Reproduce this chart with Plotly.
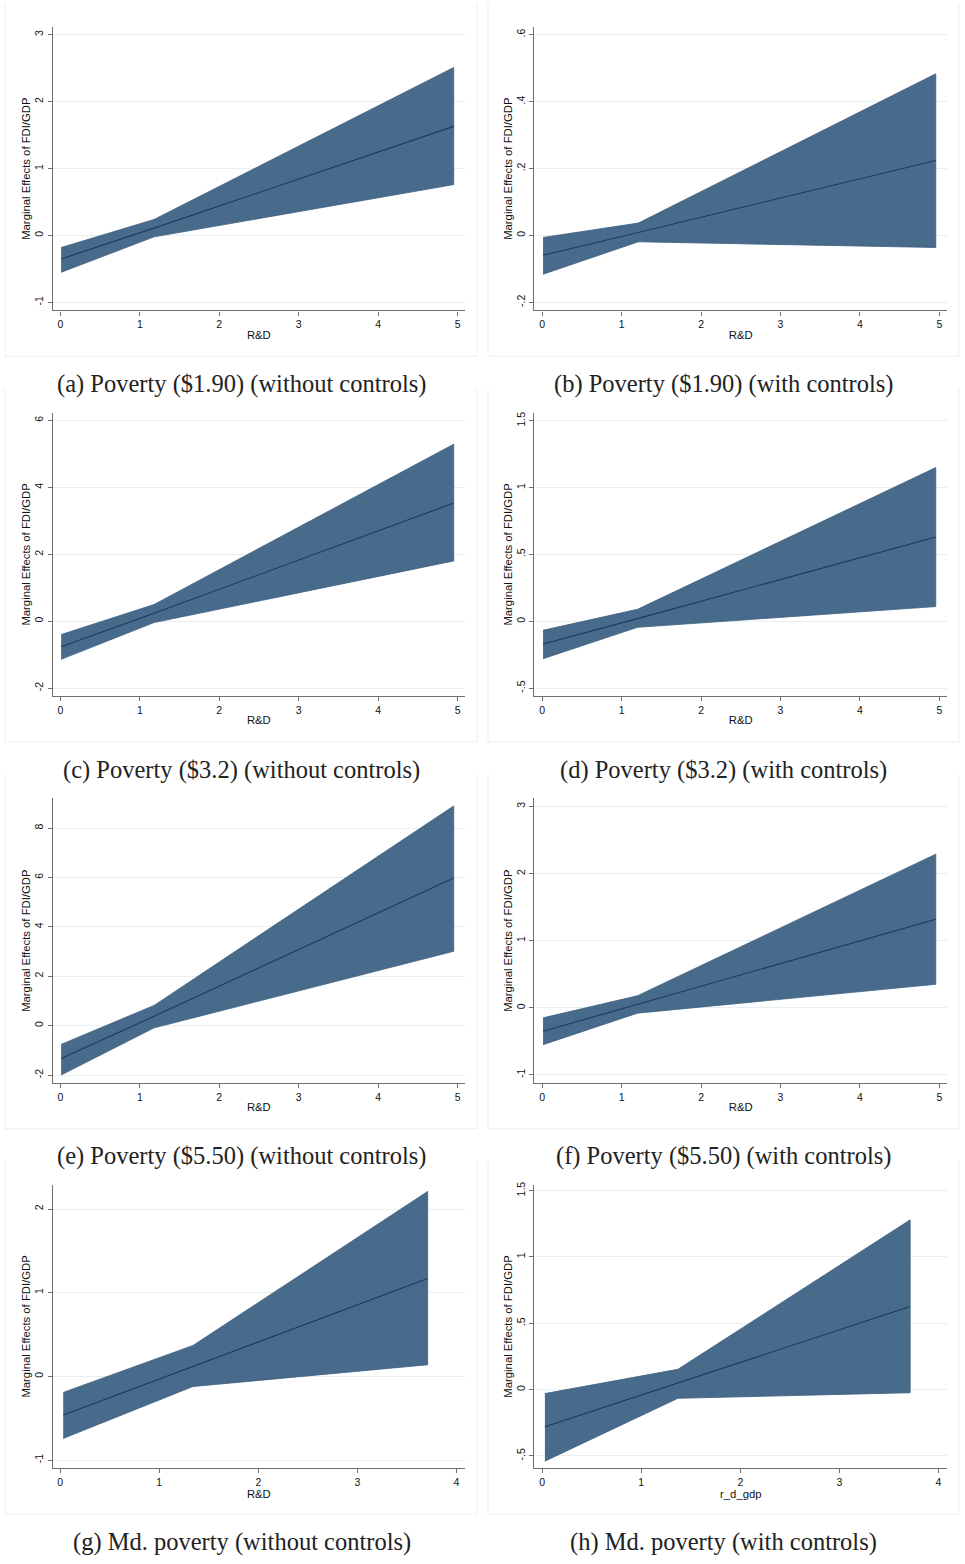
import plotly.graph_objects as go

# ---------------- data ----------------
panel_ids = ["a", "b", "c", "d", "e", "f", "g", "h"]
captions = [
    "(a) Poverty ($1.90) (without controls)",
    "(b) Poverty ($1.90) (with controls)",
    "(c) Poverty ($3.2) (without controls)",
    "(d) Poverty ($3.2) (with controls)",
    "(e) Poverty ($5.50) (without controls)",
    "(f) Poverty ($5.50) (with controls)",
    "(g) Md. poverty (without controls)",
    "(h) Md. poverty (with controls)",
]
x_titles = ["R&D", "R&D", "R&D", "R&D", "R&D", "R&D", "R&D", "r_d_gdp"]
y_title = "Marginal Effects of FDI/GDP"

x_a = [0.01, 1.18, 4.95]
upper_a = [-0.18, 0.24, 2.51]
lower_a = [-0.55, -0.02, 0.76]
center_a = [-0.35, 0.11, 1.63]

x_b = [0.01, 1.21, 4.955]
upper_b = [-0.006, 0.037, 0.483]
lower_b = [-0.116, -0.019, -0.036]
center_b = [-0.059, 0.009, 0.224]

x_c = [0.01, 1.18, 4.95]
upper_c = [-0.40, 0.50, 5.29]
lower_c = [-1.14, -0.04, 1.80]
center_c = [-0.76, 0.24, 3.53]

x_d = [0.01, 1.20, 4.955]
upper_d = [-0.067, 0.09, 1.15]
lower_d = [-0.28, -0.045, 0.11]
center_d = [-0.17, 0.02, 0.63]

x_e = [0.01, 1.18, 4.95]
upper_e = [-0.76, 0.82, 8.90]
lower_e = [-2.00, -0.09, 3.01]
center_e = [-1.33, 0.38, 5.98]

x_f = [0.01, 1.20, 4.955]
upper_f = [-0.15, 0.18, 2.29]
lower_f = [-0.55, -0.08, 0.35]
center_f = [-0.35, 0.05, 1.32]

x_g = [0.03, 1.34, 3.71]
upper_g = [-0.19, 0.37, 2.21]
lower_g = [-0.74, -0.12, 0.14]
center_g = [-0.46, 0.12, 1.17]

x_h = [0.027, 1.37, 3.715]
upper_h = [-0.03, 0.153, 1.28]
lower_h = [-0.54, -0.066, -0.024]
center_h = [-0.28, 0.05, 0.626]

yticks_a = [-1, 0, 1, 2, 3]
yticks_b = [-0.2, 0, 0.2, 0.4, 0.6]
yticks_c = [-2, 0, 2, 4, 6]
yticks_d = [-0.5, 0, 0.5, 1, 1.5]
yticks_e = [-2, 0, 2, 4, 6, 8]
yticks_f = [-1, 0, 1, 2, 3]
yticks_g = [-1, 0, 1, 2]
yticks_h = [-0.5, 0, 0.5, 1, 1.5]

ylabels_a = ["-1", "0", "1", "2", "3"]
ylabels_b = ["-.2", "0", ".2", ".4", ".6"]
ylabels_c = ["-2", "0", "2", "4", "6"]
ylabels_d = ["-.5", "0", ".5", "1", "1.5"]
ylabels_e = ["-2", "0", "2", "4", "6", "8"]
ylabels_f = ["-1", "0", "1", "2", "3"]
ylabels_g = ["-1", "0", "1", "2"]
ylabels_h = ["-.5", "0", ".5", "1", "1.5"]

xticks_5 = [0, 1, 2, 3, 4, 5]
xticks_4 = [0, 1, 2, 3, 4]

# ---------------- styling / layout ----------------
W, H = 965, 1564
FILL = "#486a8b"
EDGE = "#3c5f82"
LINE = "#1c3b5e"
AXIS = "#6e6e6e"
GRID = "#e6eef0"
FRAME = "#eceeee"
SANS = "Liberation Sans, Arial"

panels = [
    (x_a, upper_a, lower_a, center_a, yticks_a, ylabels_a, xticks_5, [-1.119, 3.115], [-0.096, 5.092]),
    (x_b, upper_b, lower_b, center_b, yticks_b, ylabels_b, xticks_5, [-0.224, 0.623], [-0.10, 5.10]),
    (x_c, upper_c, lower_c, center_c, yticks_c, ylabels_c, xticks_5, [-2.24, 6.23], [-0.096, 5.092]),
    (x_d, upper_d, lower_d, center_d, yticks_d, ylabels_d, xticks_5, [-0.56, 1.56], [-0.10, 5.10]),
    (x_e, upper_e, lower_e, center_e, yticks_e, ylabels_e, xticks_5, [-2.32, 9.2], [-0.096, 5.092]),
    (x_f, upper_f, lower_f, center_f, yticks_f, ylabels_f, xticks_5, [-1.12, 3.12], [-0.10, 5.10]),
    (x_g, upper_g, lower_g, center_g, yticks_g, ylabels_g, xticks_4, [-1.095, 2.29], [-0.076, 4.087]),
    (x_h, upper_h, lower_h, center_h, yticks_h, ylabels_h, xticks_4, [-0.593, 1.545], [-0.08, 4.09]),
]

col_px = [(52.7, 465.0), (534.3, 947.3)]
row_px = [(24.0, 308.0), (410.5, 694.5), (797.0, 1082.0), (1184.0, 1468.0)]
caption_y = [382, 768, 1155, 1542]
caption_x = [241.5, 723.5]
frame_x = [(5, 477), (488, 959)]

fig = go.Figure()
shapes = []
annotations = []

for i, (xs, up, lo, ce, yt, yl, xt, yr, xr) in enumerate(panels):
    r, c = divmod(i, 2)
    k = "" if i == 0 else str(i + 1)
    xa, ya = "x" + k, "y" + k
    # band polygon
    fig.add_trace(go.Scatter(
        x=list(xs) + list(xs)[::-1], y=list(up) + list(lo)[::-1],
        fill="toself", fillcolor=FILL, mode="lines",
        line=dict(color=EDGE, width=0.8), xaxis=xa, yaxis=ya,
        showlegend=False, hoverinfo="skip"))
    fig.add_trace(go.Scatter(
        x=xs, y=ce, mode="lines", line=dict(color=LINE, width=1.1),
        xaxis=xa, yaxis=ya, showlegend=False))
    x0p, x1p = col_px[c]
    y0p, y1p = row_px[r]
    fig.layout["xaxis" + k] = dict(
        domain=[x0p / W, x1p / W], anchor=ya, range=xr,
        tickmode="array", tickvals=xt, ticktext=[str(v) for v in xt],
        showline=True, linecolor=AXIS, linewidth=1.2, ticks="outside",
        ticklen=4, tickcolor=AXIS, showgrid=False, zeroline=False,
        tickfont=dict(family=SANS, size=10.5, color="#111"),
        title=dict(text=x_titles[i], standoff=1,
                   font=dict(family=SANS, size=11.3, color="#111")),
        fixedrange=True)
    fig.layout["yaxis" + k] = dict(
        domain=[1 - y1p / H, 1 - y0p / H], anchor=xa, range=yr,
        tickmode="array", tickvals=yt, ticktext=yl, tickangle=-90,
        showline=True, linecolor=AXIS, linewidth=1.2, ticks="outside",
        ticklen=4, tickcolor=AXIS, showgrid=True, gridcolor=GRID, gridwidth=1,
        zeroline=False,
        tickfont=dict(family=SANS, size=10.5, color="#111"),
        title=dict(text=y_title, standoff=0,
                   font=dict(family=SANS, size=11.3, color="#111")),
        fixedrange=True)
    # caption
    annotations.append(dict(
        text=captions[i], xref="paper", yref="paper",
        x=caption_x[c] / W, y=1 - caption_y[r] / H, xanchor="center", yanchor="middle",
        showarrow=False, font=dict(family="Liberation Serif, DejaVu Serif, serif", size=24.5, color="#222")))
    # faint outer frame of each graph
    fx0, fx1 = frame_x[c]
    fy1 = y1p + 46
    fy0 = y0p - 24
    for (ax0, ay0, ax1, ay1) in [(fx0, fy1, fx1, fy1), (fx0, fy0, fx0, fy1), (fx1, fy0, fx1, fy1)]:
        shapes.append(dict(type="line", xref="paper", yref="paper",
                           x0=ax0 / W, x1=ax1 / W, y0=1 - ay0 / H, y1=1 - ay1 / H,
                           line=dict(color=FRAME, width=1)))

fig.update_layout(
    width=W, height=H, margin=dict(l=0, r=0, t=0, b=0),
    paper_bgcolor="white", plot_bgcolor="white",
    shapes=shapes, annotations=annotations, showlegend=False)

fig.write_html("out.html")
